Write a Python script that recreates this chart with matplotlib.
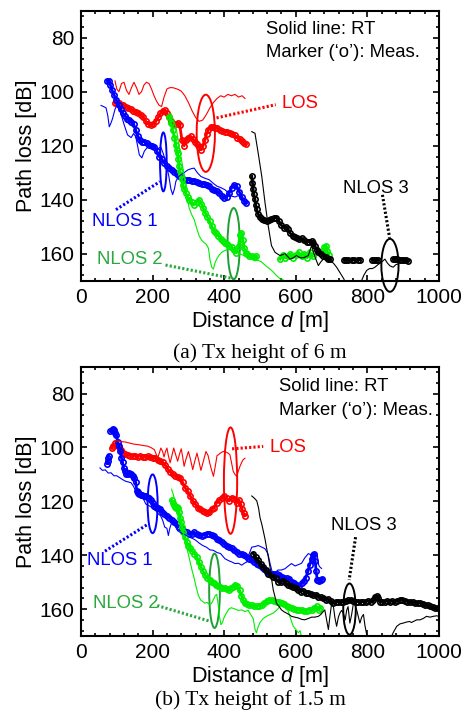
import numpy as np
import matplotlib
matplotlib.use("Agg")
import matplotlib.pyplot as plt
from matplotlib.patches import Ellipse

plt.rcParams['font.family'] = ['Liberation Sans', 'DejaVu Sans']
plt.rcParams['mathtext.fontset'] = 'custom'
plt.rcParams['mathtext.it'] = 'Liberation Sans:italic'
plt.rcParams['mathtext.rm'] = 'Liberation Sans'

nan = np.nan

# ---------------- (a) Tx height 6 m ----------------
a_los_rt_d = [95,100,106,113,120,127,134,141,148,155,162,169,176,183,190,197,204,211,218,225,232,240,248,256,264,272,280,290,300,310,320,330,340,350,360,370,380,390,400,410,420,430,440,450,458]
a_los_rt_pl = [96,99,100,97,96.5,99.5,101,98.5,96.5,98.5,101,100,97.5,96.5,97,99,101.5,103.5,105,105.5,102,99,98.5,98.5,98.8,99.2,99.8,101.5,104,107,109.5,111,110.5,108.5,106,104,102.5,101.5,102,101,101.5,101,102,101.5,102.5]

a_los_m_d = [95,100,106,112,118,125,132,139,146,153,160,167,174,181,188,195,202,209,216,222,228,234,240,246,252,258,264,270,276,282,288,294,300,306,312,318,324,330,336,341,346,351,356,362,368,374,380,387,394,401,408,415,422,429,436,443,450,456,460]
a_los_m_pl = [104,104,104.3,104.8,105,105.5,106,106.5,107,107.5,108,108.5,109.5,111,112,112.5,112,111,109.5,108,107,106.8,108,109.5,111,112,112,111.5,112.5,118,120,118,117,116.5,117.5,118.5,119.5,120.5,121.5,120,118,115.5,114,113.2,113,113.3,113.6,114,114.5,114.8,115,115.3,115.6,116.2,117,117.5,118.3,119,119.5]

a_n1_rt_d = [56,63,70,75,79,84,88,95,102,110,120,130,140,147,153,158,163,170,177,186,195,203,210,216,223,230,237,245,251,256,261,265,272,279,288,298,308,316,325,335,345,358,370,380,390,402,412,421,430,440,450,458]
a_n1_rt_pl = [105.1,105.5,106,109,113,111.5,110,106.5,104.5,107.5,112,116,117,115.5,116.7,120,123.4,124.5,122,120.5,119.2,119.5,121.5,121,120.5,123,126.5,131,136,138.1,136,133.2,131.5,130.8,130,129,128.5,128.3,130,131.4,132,132.6,134,135,135.5,136.3,137.5,138.7,139,138.5,140,141.2]

a_n1_m_d = [74,78,82,87,93,99,105,111,117,123,129,135,141,147,153,159,165,171,177,184,191,198,205,212,219,226,233,240,247,254,260,267,274,281,288,295,302,309,316,323,330,337,344,351,358,365,372,379,386,393,400,407,414,421,428,435,442,449,456,462]
a_n1_m_pl = [96,96,97.5,99.5,101.4,103,105,106.5,108,109,110,110.5,111.2,112,114.3,116.5,118,118.5,118.5,119,119.8,120.2,120.4,122,124.1,125,126.5,127.5,128.3,129,129.6,130.5,131.4,132,132.6,132.8,132.6,133,133.2,133.4,133.8,134,134.3,134.5,135,136,136.4,136.8,137.5,138.5,139.4,139,137.5,135.5,134.5,135,137,139,140.5,141.3]

a_n2_rt_d = [251,258,265,270,274,279,284,289,293,298,302,309,316,323,330,337,344,350,356,360,365,370,374,379,386,393,402,411,422,434,446,458,472,486,495,504,516,528,537,546,556,563,570]
a_n2_rt_pl = [108.1,110.5,113,116.5,120.4,124,127.7,132,136.3,140,143,145.5,147.3,150.5,153.4,155,155.9,156.5,158,162,165,165.7,163.5,162,160.5,159.5,158.8,158.3,159,159.5,160.2,160.8,161.5,162.6,162.5,163,164.5,165.7,166.8,168.1,169.3,169.5,170.5]

a_n2_m_d = [247,251,256,261,265,268,270,272,274,277,279,282,284,288,293,298,302,309,316,323,330,336,341,347,353,359,365,371,377,384,390,396,402,408,414,421,428,434,440,444,448,452,456,460,465,470,477,484,490,nan,556,563,570,578,585,592,600,608,616,624,632,640,647,nan,676,680,684,688,692]
a_n2_m_pl = [109.4,111.5,114.3,117,119.8,121.5,122.8,125,127.7,129.5,130.8,132.5,134.5,136,137.5,139,140,141,141.8,141,140,141.5,143,144.9,146.5,148,149.8,151.5,152.5,153.4,154.5,155.2,155.9,156.5,157.2,157.7,158.5,159.6,157,153,152.2,155,158,159.6,160.2,160.8,161,161.2,161,nan,162,160.5,161.5,161,160,161.5,160.5,159.5,161,160,161.5,159.5,161,nan,159,157.5,157,159,160.5]

a_n3_rt_d = [477,486,495,505,514,523,532,542,556,570,584,593,602,612,622,635,644,653,663,670,677,686,695,705,714,721,728,734,738,nan,782,790,798,806,814,821,830,839,849,856,863,872,880,886]
a_n3_rt_pl = [114.8,115.4,122.8,131.4,141.1,149.7,157,159.5,160.7,160,162,161.5,160.7,161.5,161.5,160.7,157,161,164.4,163,162,162.3,162.6,163.5,165,166.5,168,169.3,170.5,nan,170.5,168,166.2,165.5,165.5,165,164,163.2,162,163.5,164.5,165,164,163.8]

a_n3_m_d = [477,479,481,483,486,488,491,495,500,505,512,519,526,532,539,546,553,560,566,572,578,585,592,598,604,610,616,623,630,637,644,649,653,658,663,670,677,684,691,696,nan,735,740,745,nan,757,762,nan,774,778,nan,814,819,824,830,nan,872,878,884,890,896,902,908,914]
a_n3_m_pl = [131.4,133.8,136.2,138,139.9,141.8,143.6,145.4,146.5,147.3,147.6,147.9,147.5,147.3,146.8,146.7,148,149.5,150.3,150,151,152.5,153.4,153.8,154,154.5,154.3,155,155.8,155.5,155.2,156,157,158.5,159.5,160.2,160.7,161.2,162,162,nan,162.3,162.3,162.3,nan,162.3,162.3,nan,162.3,162.3,nan,162.3,162.3,162.3,162.3,nan,162,162,162,162.2,162.3,162.4,162.5,162.6]

# ---------------- (b) Tx height 1.5 m ----------------
b_los_rt_d = [93,100,112,125,140,150,163,175,186,195,205,210,214,219,223,228,232,236,240,244,249,254,259,264,270,275,280,284,288,294,300,306,312,318,324,330,335,342,349,355,360,365,370,375,380,384,390,397,402,407,412,416,421,425,430,435,439,444,449,453,458]
b_los_rt_pl = [97.8,97.5,97.8,98,98.5,98.8,99,99.3,99.5,100,100.8,102.5,103.9,102,100.2,101.5,103.5,101.5,100.2,103,105.7,103,100.2,102.5,105.1,102.5,100.5,103.5,107,104,101.5,104.5,108.2,105,102.1,105.5,108.5,105,101.5,103,106,108.5,110.7,107,103,102.7,102,101.5,101.5,101.8,102.2,102.7,106,108.8,110,110.7,109,107,105.5,104.5,104]

b_los_m_d = [86,90,95,100,106,112,118,124,130,137,144,151,158,165,172,179,186,193,200,207,214,221,228,235,242,249,256,263,270,277,284,291,298,305,312,319,326,333,340,346,352,358,365,372,379,386,393,400,407,414,421,428,435,441,446,450,454,458]
b_los_m_pl = [100.2,99.5,98.5,99,100,101,102,102.5,102.7,103,103,103.2,103.5,103,103.5,103.6,103.3,103.5,104,104,104.5,105,105.5,106.5,108,109,110,110.5,111,111.5,113,115,116.2,118,119.8,121,122.3,123,123.5,123.8,124.5,124.1,123,122.3,120.5,119.5,118.6,118,118.7,119.8,118.6,119,120.5,119.5,121,123,124.5,125.3]

b_n1_rt_d = [53,60,68,76,84,92,100,108,116,124,132,140,147,153,160,167,174,181,188,195,202,209,216,222,228,234,240,244,248,252,256,262,270,277,284,293,302,312,321,330,340,350,360,370,380,390,402,412,421,430,440,449,456,463,470,477,486,495,505,514,522,528,535,542,550,560,570,579,588,598,607,616,625,635,644,650,655,660,664,668,672]
b_n1_rt_pl = [107.6,108.5,108.3,109.5,109.4,110.5,110.5,111.2,111.9,112.5,112.8,113.1,114.5,116.2,117.5,118.6,119,121,121.5,122,122.9,123.5,124.7,125.3,127,129.6,130,132.7,130,128.4,127.8,129,130.9,131.5,132.1,132.5,133.3,133.8,134.5,135.5,136.4,137,138,138.2,139,139.4,141.3,142,142.5,143.1,143,143.7,143,142.5,139.4,137,136.8,136.4,137,137.6,139.4,143,146.8,146.5,145.5,145.5,145,144,143.1,144,143.5,143,141,139.4,140,141.5,140,140,143.7,144.5,144.9]

b_n1_m_d = [74,75,76,77,nan,82,86,89,92,95,99,102,106,110,113,116,119,123,126,130,134,139,144,149,153,156,158,160,163,167,171,175,181,186,191,196,201,205,210,215,220,226,233,240,247,254,260,267,274,281,288,295,302,309,316,323,330,337,344,351,358,365,372,379,386,393,400,407,414,421,428,435,442,449,456,463,470,477,484,491,498,505,512,519,526,533,540,547,554,561,568,575,582,589,596,603,610,616,622,628,634,639,644,648,651,654,657,660,663,666,669,672]
b_n1_m_pl = [106,105,104,103,nan,94,93.5,93,93.5,94.7,95.5,97.8,99.5,101.4,103.9,105.5,107.6,108.8,110,109.8,109.4,110,110.5,111.2,113,116.2,116.5,116.8,117.4,117.5,117.8,118,118,118.6,118.8,119.5,120.5,121.7,122.2,122.6,122.9,123.8,124.7,125.5,126,127,127.8,128.5,129.6,130.3,130.9,131.5,132.1,132,131.5,132,132.5,132.7,132.5,132,132.1,132.5,133,133.9,134.5,135,135.8,136.5,137,137.5,138.2,138.8,139.4,139.4,140,140.7,141.3,141.9,142.5,143.1,143.7,144.4,145,146.2,146.5,146.8,146.8,147,147.4,148,148.3,148.6,149,149.9,150.5,151,151.5,150.5,149.5,148.3,146,143.5,141.5,140.1,139.4,142,146,149.3,149.3,149.5,149.2,149]

b_n2_rt_d = [253,258,263,268,274,279,285,291,297,304,310,316,322,328,334,340,346,352,358,364,370,375,379,383,387,391,395,400,406,413,420,430,440,449,458,467,474,481,486,490,495,500,509,518,528,537,546,556,565,574,584,593,600,607,612,616]
b_n2_rt_pl = [115.5,117.5,120.5,124,126.5,128.5,131.5,134.5,138,142,145.5,148.5,152,155,156.6,157.2,157.8,157.5,158.3,158,156.5,155,154.5,158,163,165.8,165,163,161.5,160,159.5,160,160.5,160.3,160.9,160.5,162,163.5,167.5,168.8,166.5,165,163.5,162.7,162,161.5,160.5,159,157.8,159,163,166.4,167.5,168.8,168,170.5]

b_n2_m_d = [253,256,259,262,265,268,271,274,277,280,283,286,290,295,300,305,311,317,323,329,335,341,347,353,359,365,371,377,383,389,395,401,407,413,419,425,431,437,443,448,453,458,464,470,477,484,491,498,505,512,519,526,533,540,547,554,561,568,575,582,589,596,603,610,617,624,631,638,645,652,658,664,668]
b_n2_m_pl = [119.5,120.5,121.5,122,122.3,122,122.5,124,126,127.8,129.5,131.5,133.3,135,136.4,137.5,138.5,139.4,140.5,142.5,144.3,146,147.5,148.6,149.3,149.9,150.5,151.1,151.5,151.8,152.1,152.3,152.6,152.9,152.3,151.7,150.9,151.5,153,155,156.8,157.8,158.2,158.4,158.6,159,159,158.8,158.5,157.8,157,156.6,156.6,157,157.2,157.5,157.8,158.3,159,159.3,159.7,160,160.3,160.5,160.3,160.9,160.6,160.3,160.2,159.5,159,160.3,159.5]

b_n3_rt_d = [477,484,491,496,500,505,509,514,518,523,528,532,537,542,546,553,560,567,574,581,588,597,607,616,625,635,644,653,663,670,676,681,686,691,695,700,705,709,714,719,723,728,733,738,742,746,751,756,761,765,770,775,779,784,789,793,798,nan,866,873,882,891,900,910,918,923,930,938,947,956,965,975,984,993,1000]
b_n3_rt_pl = [118,118.8,119.8,122.5,126,128.5,130.9,134,137,140.5,144.4,148.5,152.9,155.5,157.8,159,160.3,161,161.5,162,162.7,163,163.3,163.8,164,163.5,163,163,162.7,162,161,160.3,164,167.6,163,158,159,163,166.4,163,161.5,160.5,161.5,164,160.5,159.1,165.2,162,157.8,158.5,160.3,163,165.2,163,162,166,169.5,nan,170.5,168.5,166.4,165.5,165.2,164.8,164.6,165,164.5,164,164,163.5,162.7,163,162.7,162.5,162.7]

b_n3_m_d = [481,488,495,502,509,516,523,530,537,544,551,558,565,572,579,586,593,600,607,614,621,628,635,642,649,656,663,670,677,684,691,698,705,712,719,726,733,740,747,754,761,768,775,782,789,796,803,810,817,822,826,830,835,842,849,856,863,870,877,884,891,898,905,912,919,926,933,940,947,954,961,968,975,982,989,996,1000]
b_n3_m_pl = [139.4,140.8,141.9,143.2,144.4,145.5,146.8,147.4,148,148.6,149.9,150,149.5,150.5,151.1,151.5,151.7,152,153,153.5,153.2,154.2,154,154.5,154.8,154.6,155.4,155.6,156,156.6,156.3,157,157.8,157.5,157.2,157.3,157.2,157,156.8,156.6,157,157.2,157.2,157.3,157.2,157.2,157,157.2,156.8,155.4,155.3,156,157.2,157.5,157.2,157,157.2,157,157.3,157,156.6,156.8,157,157.2,157.2,157.4,157.6,157.8,157.8,158.2,158.6,158.6,159,159.3,159.7,159.7,159.7]

x_ticks = [0, 200, 400, 600, 800, 1000]
y_ticks = [80, 100, 120, 140, 160]
titles = ['(a) Tx height of 6 m', '(b) Tx height of 1.5 m']
labels = ['LOS', 'NLOS 1', 'NLOS 2', 'NLOS 3']

RED, BLUE, LIME, BLACK = '#ff0000', '#0000ff', '#00ee00', '#000000'
DGREEN = '#1e9e35'
LGREEN = '#2aa83c'

fig = plt.figure(figsize=(4.7, 7.11), dpi=100)
ax1 = fig.add_axes([81/470, 430.3/711, 358/470, 270/711])
ax2 = fig.add_axes([81/470, 75/711, 358/470, 269.3/711])


def meas(ax, d, pl, c):
    ax.plot(d, pl, linestyle='-', lw=2.0, color=c, marker='o', ms=3.8,
            mfc='none', mec=c, mew=1.2)


def rt(ax, d, pl, c):
    ax.plot(d, pl, color=c, lw=0.8)


def style(ax):
    ax.set_xlim(0, 1000)
    ax.set_ylim(170, 70)
    ax.set_xticks(x_ticks)
    ax.set_yticks(y_ticks)
    ax.set_xticks(np.arange(0, 1001, 40), minor=True)
    ax.set_yticks(np.arange(72, 171, 4), minor=True)
    ax.tick_params(which='both', direction='in', top=True, right=True, labelsize=15, width=1.2)
    ax.tick_params(which='major', length=4.5, pad=5)
    ax.tick_params(which='minor', length=2.2)
    for s in ax.spines.values():
        s.set_linewidth(1.5)
    ax.set_xlabel('Distance $d$ [m]', fontsize=15.5)
    ax.set_ylabel('Path loss [dB]', fontsize=15.5)
    ax.xaxis.set_label_coords(0.5, -0.152)
    ax.xaxis.label.set_va('center')
    ax.yaxis.set_label_coords(-0.152, 0.5)
    ax.yaxis.label.set_va('center')


def ell(ax, xy, w, h, c, clip=True):
    e = Ellipse(xy, w, h, fill=False, edgecolor=c, lw=1.4, clip_on=clip)
    ax.add_patch(e)


def leader(ax, x, y, c):
    ax.plot(x, y, color=c, lw=2.2, linestyle=(0, (0.7, 0.7)), clip_on=False)


# panel (a)
meas(ax1, a_los_m_d, a_los_m_pl, RED)
meas(ax1, a_n1_m_d, a_n1_m_pl, BLUE)
meas(ax1, a_n2_m_d, a_n2_m_pl, LIME)
meas(ax1, a_n3_m_d, a_n3_m_pl, BLACK)
rt(ax1, a_los_rt_d, a_los_rt_pl, RED)
rt(ax1, a_n1_rt_d, a_n1_rt_pl, BLUE)
rt(ax1, a_n2_rt_d, a_n2_rt_pl, LIME)
rt(ax1, a_n3_rt_d, a_n3_rt_pl, BLACK)
style(ax1)
ell(ax1, (348.6, 115.4), 51, 28.6, RED)
ell(ax1, (230, 126), 18.6, 21.8, BLUE)
ell(ax1, (426.5, 156.3), 34.4, 26.4, DGREEN, clip=False)
ell(ax1, (863, 164.3), 48, 19.6, BLACK, clip=False)
leader(ax1, [378.6, 544], [109.7, 104.8], RED)
leader(ax1, [97.7, 220.5], [143.7, 133.3], BLUE)
leader(ax1, [236, 425], [164.2, 169.2], LGREEN)
leader(ax1, [842, 862], [138.2, 154.1], BLACK)
ax1.text(560, 104.5, labels[0], color=RED, fontsize=13.3, va='center')
ax1.text(29.8, 148, labels[1], color=BLUE, fontsize=13.3, va='center')
ax1.text(43.7, 162.1, labels[2], color=LGREEN, fontsize=13.3, va='center')
ax1.text(732, 135.8, labels[3], color=BLACK, fontsize=13.3, va='center')
ax1.text(518, 77, 'Solid line: RT', fontsize=13.3, va='center')
ax1.text(518, 85.5, 'Marker (\u2018o\u2019): Meas.', fontsize=13.3, va='center')

# panel (b)
meas(ax2, b_los_m_d, b_los_m_pl, RED)
meas(ax2, b_n1_m_d, b_n1_m_pl, BLUE)
meas(ax2, b_n2_m_d, b_n2_m_pl, LIME)
meas(ax2, b_n3_m_d, b_n3_m_pl, BLACK)
rt(ax2, b_los_rt_d, b_los_rt_pl, RED)
rt(ax2, b_n1_rt_d, b_n1_rt_pl, BLUE)
rt(ax2, b_n2_rt_d, b_n2_rt_pl, LIME)
rt(ax2, b_n3_rt_d, b_n3_rt_pl, BLACK)
style(ax2)
ell(ax2, (417.7, 112.3), 37, 39.5, RED)
ell(ax2, (200, 120.9), 28, 21.8, BLUE)
ell(ax2, (373, 153.2), 30, 27.6, DGREEN)
ell(ax2, (750, 160), 35, 19, BLACK)
leader(ax2, [422, 509], [100.5, 99.6], RED)
leader(ax2, [67, 188], [138.5, 128.4], BLUE)
leader(ax2, [213, 362], [158.7, 164.6], LGREEN)
leader(ax2, [767, 749], [133.3, 149.2], BLACK)
ax2.text(527.4, 100, labels[0], color=RED, fontsize=13.3, va='center')
ax2.text(15.8, 142.1, labels[1], color=BLUE, fontsize=13.3, va='center')
ax2.text(32.6, 157.8, labels[2], color=LGREEN, fontsize=13.3, va='center')
ax2.text(699.5, 129, labels[3], color=BLACK, fontsize=13.3, va='center')
ax2.text(553.5, 77.5, 'Solid line: RT', fontsize=13.3, va='center')
ax2.text(553.5, 86.1, 'Marker (\u2018o\u2019): Meas.', fontsize=13.3, va='center')

fig.text(260/470, 1 - 353/711, titles[0], ha='center', va='center', fontsize=15.5, family=['Liberation Serif', 'DejaVu Serif'])
fig.text(250/470, 1 - 700/711, titles[1], ha='center', va='center', fontsize=15.5, family=['Liberation Serif', 'DejaVu Serif'])

fig.savefig('out.png', dpi=100)
